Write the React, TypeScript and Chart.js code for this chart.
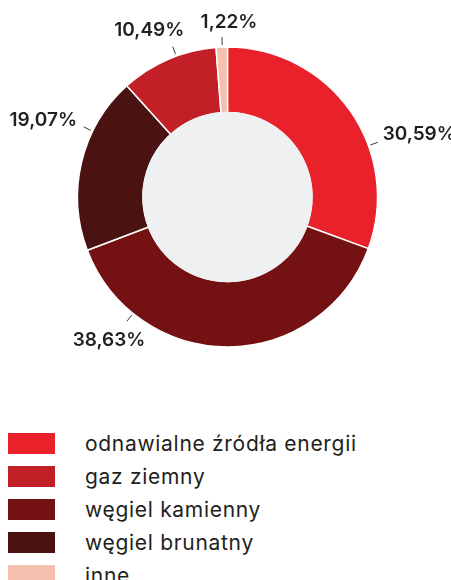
import React, { useEffect, useRef } from "react";
import { Chart, registerables } from "chart.js";

Chart.register(...registerables);

const categories = [
  "odnawialne źródła energii",
  "węgiel kamienny",
  "węgiel brunatny",
  "gaz ziemny",
  "inne",
];
const shares = [30.59, 38.63, 19.07, 10.49, 1.22];
const valueLabels = ["30,59%", "38,63%", "19,07%", "10,49%", "1,22%"];
const colors = ["#e8212a", "#741213", "#4a1211", "#c21f27", "#f5c0ae"];
const legendOrder = [0, 3, 1, 2, 4];

// label styling: leader direction, text direction (deg clockwise from 12 o'clock), extra gap
const leaderAngles = [70, 219, 296, 340, 358];
const textAngles = [71.5, 219.7, 293, 335, 0.5];
const textGaps = [5, -4, 6, 3, 7];

const LABEL_FONT = "600 19px Inter";
const TEXT_COLOR = "#231f20";

const outLabels = {
  id: "outLabels",
  afterDatasetsDraw(chart: any) {
    const ctx = chart.ctx as CanvasRenderingContext2D;
    const meta = chart.getDatasetMeta(0);
    const a0 = meta.data[0] as any;
    const cx = a0.x;
    const cy = a0.y;
    const r = a0.outerRadius;
    const ir = a0.innerRadius;
    ctx.save();
    ctx.beginPath();
    ctx.arc(cx, cy, ir + 0.8, 0, Math.PI * 2);
    ctx.fillStyle = "#eff0f2";
    ctx.fill();

    ctx.font = LABEL_FONT;
    ctx.textAlign = "center";
    ctx.textBaseline = "middle";
    meta.data.forEach((_arc: any, i: number) => {
      const a = (leaderAngles[i] * Math.PI) / 180;
      const dx = Math.sin(a);
      const dy = -Math.cos(a);
      ctx.beginPath();
      ctx.moveTo(cx + dx * (r + 2), cy + dy * (r + 2));
      ctx.lineTo(cx + dx * (r + 10), cy + dy * (r + 10));
      ctx.strokeStyle = "#3a3a3a";
      ctx.lineWidth = 1;
      ctx.stroke();
      const t = (textAngles[i] * Math.PI) / 180;
      const tx = Math.sin(t);
      const ty = -Math.cos(t);
      const w = ctx.measureText(valueLabels[i]).width;
      const h = 16;
      const d = r + 10 + textGaps[i] + (w / 2) * Math.abs(tx) + (h / 2) * Math.abs(ty);
      ctx.fillStyle = TEXT_COLOR;
      ctx.fillText(valueLabels[i], cx + tx * d, cy + ty * d + 1);
    });
    ctx.restore();
  },
};

export default function App() {
  const ref = useRef<HTMLCanvasElement | null>(null);
  useEffect(() => {
    if (!ref.current) return;
    const chart = new Chart(ref.current, {
      type: "doughnut",
      data: {
        labels: categories,
        datasets: [
          {
            data: shares,
            backgroundColor: colors,
            borderColor: "#ffffff",
            borderWidth: 1.5,
          },
        ],
      },
      options: {
        animation: false,
        responsive: false,
        devicePixelRatio: 1,
        radius: 150,
        cutout: 84,
        layout: { padding: { left: 76, right: 72, top: 47, bottom: 41 } },
        plugins: {
          legend: { display: false },
          tooltip: { enabled: false },
        },
      } as any,
      plugins: [outLabels],
    });
    return () => chart.destroy();
  }, []);

  return (
    <div
      style={{
        position: "absolute",
        left: 0,
        top: 0,
        width: 451,
        height: 580,
        overflow: "hidden",
        background: "#ffffff",
      }}
    >
      <canvas
        ref={ref}
        width={451}
        height={388}
        style={{ display: "block", width: 451, height: 388 }}
      />
      <div style={{ marginTop: 39, paddingLeft: 8 }}>
        {legendOrder.map((i) => (
          <div
            key={categories[i]}
            style={{ display: "flex", alignItems: "center", height: 33 }}
          >
            <div
              style={{ width: 47, height: 21, background: colors[i], flex: "none" }}
            />
            <div
              style={{
                marginLeft: 30,
                fontFamily: "Inter, sans-serif",
                fontSize: 21,
                letterSpacing: 0.7,
                color: TEXT_COLOR,
                lineHeight: "33px",
                whiteSpace: "nowrap",
              }}
            >
              {categories[i]}
            </div>
          </div>
        ))}
      </div>
    </div>
  );
}
